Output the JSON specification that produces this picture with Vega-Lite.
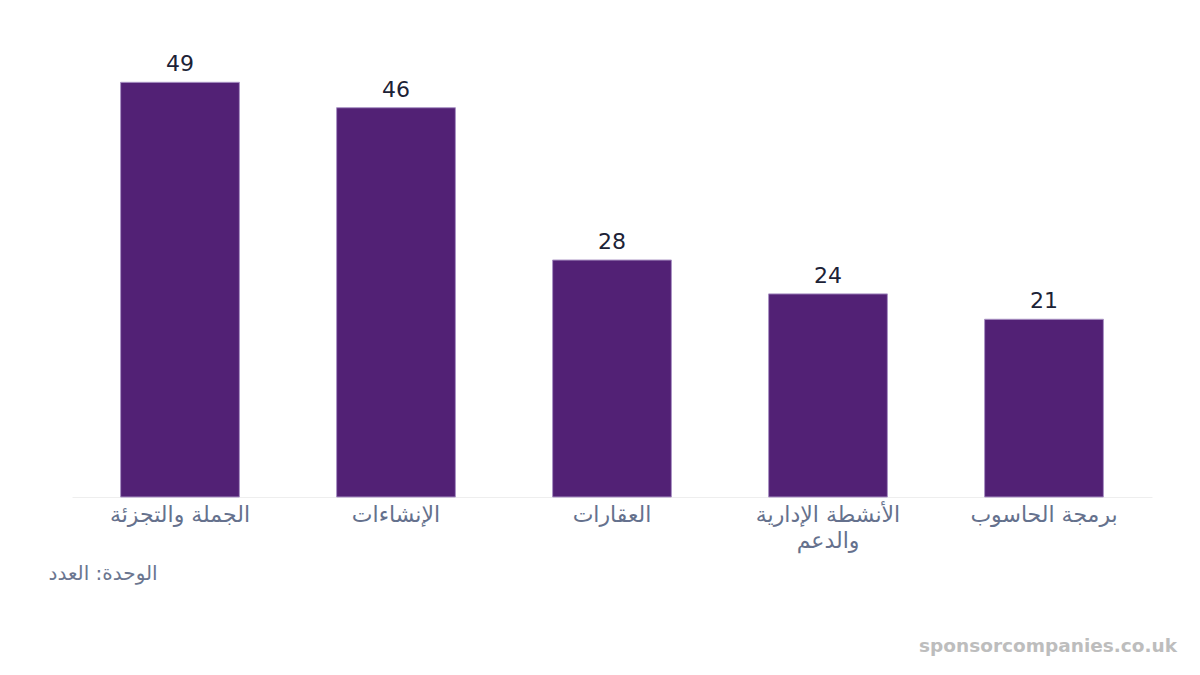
{
  "$schema": "https://vega.github.io/schema/vega-lite/v6.json",
  "autosize": "none",
  "width": 1080,
  "height": 457,
  "padding": {"left": 72, "top": 40, "right": 48, "bottom": 178},
  "background": "white",
  "data": {
    "values": [
      {"sector": "الجملة والتجزئة", "count": 49},
      {"sector": "الإنشاءات", "count": 46},
      {"sector": "العقارات", "count": 28},
      {"sector": "الأنشطة الإدارية والدعم", "count": 24},
      {"sector": "برمجة الحاسوب", "count": 21}
    ]
  },
  "title": {
    "text": "sponsorcompanies.co.uk",
    "orient": "bottom",
    "anchor": "end",
    "frame": "group",
    "font": "DejaVu Sans",
    "fontSize": 18.5,
    "fontWeight": "bold",
    "color": "#bdbdbd",
    "dx": 25,
    "offset": 54
  },
  "encoding": {
    "x": {
      "field": "sector",
      "type": "nominal",
      "sort": null,
      "scale": {"paddingInner": 0.45, "paddingOuter": 0.225},
      "axis": {
        "title": "الوحدة: العدد",
        "titleFont": "DejaVu Sans",
        "titleFontSize": 20,
        "titleFontWeight": "normal",
        "titleColor": "#6b7690",
        "titleAnchor": "start",
        "titleAlign": "left",
        "titleX": -24,
        "titleY": 76,
        "titleBaseline": "middle",
        "labelAngle": 0,
        "labelFont": "DejaVu Sans",
        "labelFontSize": 22,
        "labelColor": "#65718d",
        "labelPadding": 7,
        "labelLineHeight": 26,
        "labelExpr": "datum.label == 'الأنشطة الإدارية والدعم' ? ['الأنشطة الإدارية', 'والدعم'] : datum.label",
        "ticks": false,
        "domainColor": "#eeeeee",
        "domainWidth": 1
      }
    },
    "y": {
      "field": "count",
      "type": "quantitative",
      "scale": {"domain": [0, 54], "nice": false},
      "axis": null
    }
  },
  "layer": [
    {
      "mark": {"type": "bar", "color": "#522175", "stroke": "#a992c4", "strokeWidth": 1}
    },
    {
      "mark": {"type": "text", "baseline": "alphabetic", "dy": -11, "font": "DejaVu Sans", "fontSize": 22, "color": "#1c2236"},
      "encoding": {"text": {"field": "count", "type": "quantitative"}}
    }
  ],
  "config": {
    "view": {"stroke": null}
  }
}
